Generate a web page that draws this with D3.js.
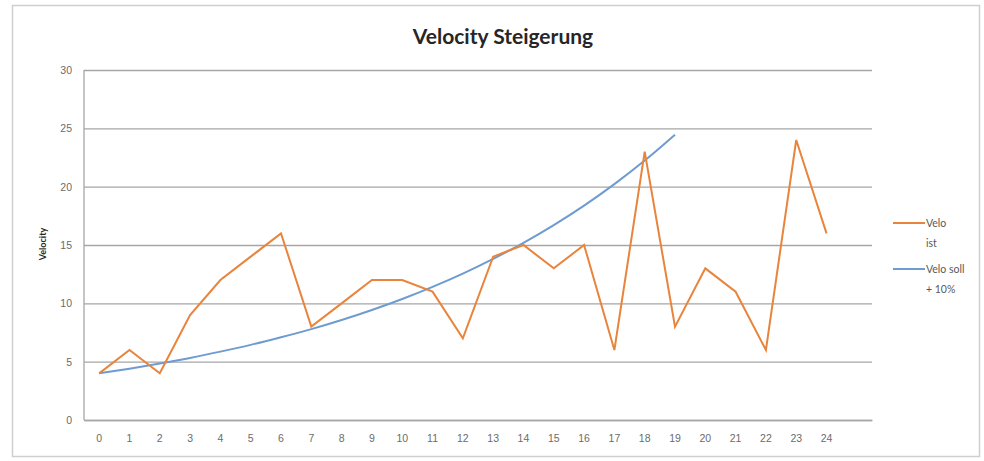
<!DOCTYPE html>
<html>
<head>
<meta charset="utf-8">
<script src="https://cdn.jsdelivr.net/npm/d3@7"></script>
<style>
  html, body { margin: 0; padding: 0; background: #fff; }
  svg { display: block; font-family: Lato, "Open Sans", sans-serif; }
</style>
</head>
<body>
<div id="chart"></div>
<script>
/* Velocity Steigerung — Linie "Velo ist" gegen die Sollkurve (+10 % je Sprint) */

// Sprints 0..24 plus eine leere Kategorie am Ende (wie im Original)
const sprints = d3.range(0, 26);
const tickLabels = sprints.map(s => s <= 24 ? String(s) : "");

const veloIst = [4, 6, 4, 9, 12, 14, 16, 8, 10, 12, 12, 11, 7, 14, 15, 13, 15, 6, 23, 8, 13, 11, 6, 24, 16];
const veloSoll = [4, 4.4, 4.84, 5.32, 5.86, 6.44, 7.09, 7.79, 8.57, 9.43, 10.37, 11.41, 12.55,
                  13.81, 15.19, 16.71, 18.38, 20.22, 22.24, 24.46];

const yTicks = [0, 5, 10, 15, 20, 25, 30];

const seriesNames = [["Velo", "ist"], ["Velo soll", "+ 10%"]];
const seriesColors = ["#E8843C", "#6E9BD1"];

const W = 984, H = 461;
const plot = { left: 84, right: 872, top: 70, bottom: 420 };

const svg = d3.select("#chart").append("svg")
  .attr("width", W).attr("height", H);

// Rahmen des Diagrammbereichs
svg.append("rect")
  .attr("x", 12.5).attr("y", 5.5).attr("width", 967).attr("height", 451)
  .attr("fill", "#fff").attr("stroke", "#cfcfcf").attr("stroke-width", 1.5);

const x = d3.scaleBand().domain(sprints).range([plot.left, plot.right]);
const y = d3.scaleLinear().domain([0, 30]).range([plot.bottom, plot.top]);

/* Gitterlinien + y-Achse */
const yAxis = svg.append("g")
  .attr("transform", `translate(${plot.left},0)`)
  .call(d3.axisLeft(y).tickValues(yTicks).tickSize(-(plot.right - plot.left)).tickPadding(12));
yAxis.select(".domain").remove();
yAxis.selectAll(".tick line").attr("stroke", "#a6a6a6").attr("stroke-width", 1.3);
yAxis.selectAll(".tick text")
  .attr("fill", "#6b6b6b").attr("font-size", 10.5);

svg.append("line")
  .attr("x1", plot.left).attr("x2", plot.left)
  .attr("y1", plot.top).attr("y2", plot.bottom)
  .attr("stroke", "#a6a6a6").attr("stroke-width", 1.3);

/* x-Achse */
const xAxis = svg.append("g")
  .attr("transform", `translate(0,${plot.bottom})`)
  .call(d3.axisBottom(x).tickFormat((d, i) => tickLabels[i]).tickSize(0).tickPadding(15));
xAxis.select(".domain").attr("stroke", "#a6a6a6").attr("stroke-width", 1.3);
xAxis.selectAll(".tick text").attr("fill", "#6b6b6b").attr("font-size", 10.5);

/* Linien */
const cx = i => x(i) + x.bandwidth() / 2;

svg.append("path")
  .datum(veloSoll)
  .attr("fill", "none").attr("stroke", seriesColors[1]).attr("stroke-width", 2)
  .attr("d", d3.line().x((d, i) => cx(i)).y(d => y(d)).curve(d3.curveMonotoneX));

svg.append("path")
  .datum(veloIst)
  .attr("fill", "none").attr("stroke", seriesColors[0]).attr("stroke-width", 2)
  .attr("stroke-linejoin", "miter")
  .attr("d", d3.line().x((d, i) => cx(i)).y(d => y(d)));

/* Titel + Achsentitel */
svg.append("text")
  .attr("x", 503).attr("y", 44)
  .attr("text-anchor", "middle")
  .attr("font-size", 21).attr("font-weight", "bold").attr("fill", "#262626")
  .text("Velocity Steigerung");

svg.append("text")
  .attr("transform", "translate(46,244) rotate(-90)")
  .attr("text-anchor", "middle")
  .attr("font-size", 9).attr("font-weight", "bold").attr("fill", "#262626")
  .text("Velocity");

/* Legende */
const legend = svg.append("g").attr("transform", "translate(893,223)");
seriesNames.forEach((lines, i) => {
  const g = legend.append("g").attr("transform", `translate(0,${i * 46})`);
  g.append("line").attr("x1", 0).attr("x2", 32).attr("y1", 0).attr("y2", 0)
    .attr("stroke", seriesColors[i]).attr("stroke-width", 2);
  lines.forEach((t, j) => {
    g.append("text").attr("x", 33).attr("y", 4 + j * 20)
      .attr("font-size", 10.5).attr("fill", "#595959").text(t);
  });
});
</script>
</body>
</html>
